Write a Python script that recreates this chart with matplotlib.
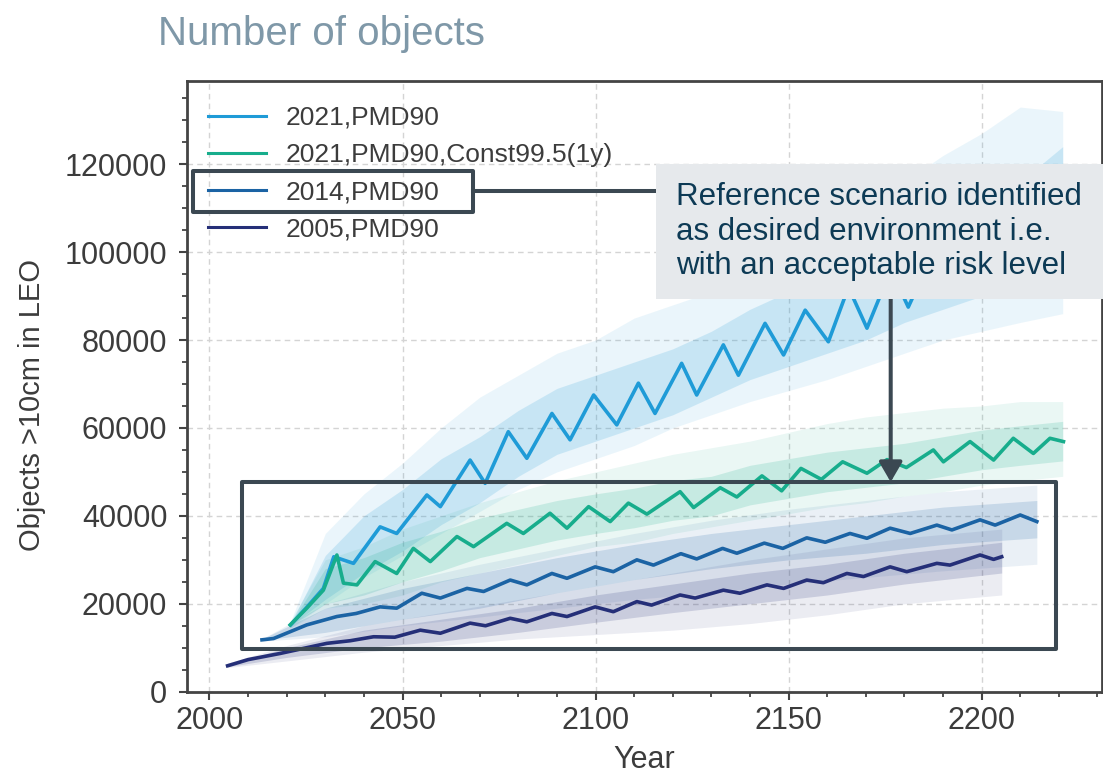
import matplotlib
matplotlib.use("Agg")
import matplotlib.pyplot as plt
from matplotlib.patches import Rectangle, FancyArrowPatch
from matplotlib.lines import Line2D
from matplotlib.ticker import MultipleLocator

plt.rcParams['font.family'] = ['Liberation Sans', 'DejaVu Sans']

# ---------------- data ----------------
labels = ["2021,PMD90", "2021,PMD90,Const99.5(1y)", "2014,PMD90", "2005,PMD90"]
colors = ["#1f9bd7", "#17ad8c", "#1b63a4", "#252f78"]

# mean lines
y21_years = [2021.0, 2025.0, 2029.5, 2032.2, 2037.3, 2044.2, 2048.5, 2056.3, 2059.8, 2067.5,
             2071.4, 2077.4, 2082.2, 2088.7, 2093.4, 2099.5, 2105.5, 2111.1, 2115.4, 2122.3,
             2126.2, 2133.1, 2137.0, 2143.9, 2148.7, 2154.3, 2160.3, 2165.5, 2170.3, 2176.5,
             2181.0, 2187.5, 2192.0, 2198.5, 2203.0, 2209.5, 2214.0, 2220.0, 2221.0]
y21_mean = [15200, 19000, 23500, 30700, 29200, 37500, 36000, 44750, 42100, 52700,
            47400, 59150, 53100, 63300, 57300, 67500, 60700, 70200, 63300, 74700,
            67500, 78900, 72000, 83800, 76600, 86800, 79600, 92000, 82700, 96000,
            87500, 100000, 91000, 104000, 95000, 109000, 99000, 114000, 113000]

c99_years = [2020.9, 2025.2, 2029.5, 2033.0, 2034.7, 2038.2, 2042.9, 2048.5, 2052.8, 2057.2,
             2064.1, 2068.4, 2077.0, 2081.3, 2088.2, 2092.6, 2098.2, 2103.8, 2108.5, 2113.3,
             2121.9, 2125.4, 2132.3, 2136.6, 2143.1, 2148.2, 2153.2, 2158.5, 2164.0, 2170.3,
             2175.5, 2180.5, 2187.5, 2190.1, 2197.0, 2203.1, 2208.2, 2213.4, 2217.7, 2221.2]
c99_mean = [15200, 19000, 23100, 31100, 24700, 24300, 29600, 26900, 32600, 29600,
            35300, 33000, 38300, 36000, 40600, 37200, 42100, 38700, 42900, 40400,
            45500, 41900, 46400, 44300, 49100, 45700, 50800, 48300, 52300, 49700,
            52800, 51000, 55000, 52300, 56900, 52700, 57650, 54200, 57650, 56900]

y14_years = [2013.6, 2016.6, 2025.2, 2033.0, 2038.0, 2044.2, 2048.5, 2055.0, 2059.8, 2066.7,
             2071.0, 2077.9, 2082.2, 2088.7, 2092.6, 2099.9, 2104.6, 2110.7, 2115.0, 2122.1,
             2126.2, 2132.9, 2136.6, 2143.7, 2148.5, 2154.7, 2159.5, 2165.9, 2170.3, 2176.3,
             2181.5, 2188.4, 2192.3, 2199.6, 2203.5, 2210.0, 2214.3]
y14_mean = [11800, 12100, 15200, 17100, 17800, 19300, 19000, 22400, 21300, 23500,
            22800, 25400, 24300, 26900, 25800, 28400, 27300, 30000, 28800, 31400,
            30200, 32600, 31500, 33800, 32600, 35000, 34000, 36000, 34900, 37200,
            36000, 37900, 36800, 39100, 37900, 40200, 38700]

y05_years = [2004.7, 2010.0, 2018.3, 2030.4, 2036.5, 2042.5, 2048.0, 2054.6, 2059.8, 2067.5,
             2071.5, 2077.9, 2082.2, 2088.7, 2092.6, 2099.9, 2104.6, 2110.7, 2114.5, 2121.9,
             2125.8, 2133.1, 2137.4, 2144.4, 2148.7, 2154.7, 2159.0, 2165.1, 2169.4, 2176.3,
             2180.6, 2188.4, 2191.8, 2199.6, 2203.1, 2205.2]
y05_mean = [5900, 7300, 8700, 11000, 11600, 12500, 12400, 14000, 13300, 15600,
            15000, 16700, 15900, 17800, 17100, 19300, 18200, 20500, 19700, 22000,
            21300, 23100, 22400, 24300, 23500, 25400, 24800, 26900, 26200, 28400,
            27300, 29200, 28800, 31100, 30100, 30700]

# spread of the individual Monte Carlo runs: outer (all runs) and inner (dense core)
y21_env_years = [2021, 2030, 2040, 2050, 2060, 2070, 2080, 2090, 2100, 2110, 2120,
                 2130, 2140, 2150, 2160, 2170, 2180, 2190, 2200, 2210, 2221]
y21_low = [14500, 20000, 26000, 31000, 36000, 41000, 46000, 50000, 53000, 56000, 60000,
           63000, 66000, 68500, 71000, 74000, 77000, 80000, 82000, 84000, 86000]
y21_high = [16000, 36000, 45000, 52000, 60000, 67000, 72000, 77000, 80000, 85000, 88000,
            91000, 95000, 100000, 105000, 110000, 116000, 122000, 127000, 133000, 132000]
y21_in_low = [15000, 21000, 27000, 32000, 38000, 43000, 49000, 54000, 57000, 60000, 63000,
              67000, 71000, 74000, 77000, 80000, 84000, 87000, 90000, 94000, 98000]
y21_in_high = [15500, 31000, 40000, 46000, 53000, 58000, 64000, 69000, 72000, 75000, 78000,
               82000, 87000, 91000, 94000, 97000, 101000, 106000, 111000, 116000, 124000]

c99_env_years = [2021, 2030, 2040, 2050, 2060, 2070, 2080, 2090, 2100, 2110, 2120,
                 2130, 2140, 2150, 2160, 2170, 2180, 2190, 2200, 2210, 2221]
c99_low = [14500, 19000, 20000, 22000, 25000, 27000, 29000, 31000, 33000, 34000, 36000,
           37500, 39000, 40500, 42000, 43000, 44500, 45500, 47000, 48000, 49000]
c99_high = [16000, 30000, 33000, 37000, 40000, 43000, 45500, 48000, 50000, 52000, 54000,
            55500, 57000, 59000, 61000, 62500, 63500, 64500, 65000, 66000, 66000]
c99_in_low = [15000, 20000, 22000, 25000, 27500, 30500, 32500, 34500, 36000, 37300, 39000,
              40000, 42500, 44000, 45500, 46500, 47500, 49000, 50500, 51500, 52500]
c99_in_high = [15500, 28000, 30500, 34000, 36500, 39500, 41500, 43500, 45000, 46300, 48000,
               49000, 51500, 53000, 54500, 55500, 56500, 58000, 59500, 60500, 61500]

y14_env_years = [2013.6, 2030, 2050, 2070, 2090, 2110, 2130, 2150, 2170, 2190, 2214.3]
y14_low = [11500, 12500, 15000, 17000, 19000, 21000, 22500, 24500, 26000, 27500, 29000]
y14_high = [12000, 20000, 25000, 29000, 32500, 36000, 39000, 41500, 43500, 45500, 47000]
y14_in_low = [11700, 13500, 16500, 19000, 22500, 25500, 28000, 30000, 31500, 33500, 35000]
y14_in_high = [12000, 19000, 23500, 27000, 30500, 33500, 36000, 38000, 40000, 42000, 43500]

y05_env_years = [2004.7, 2020, 2040, 2060, 2080, 2100, 2120, 2140, 2160, 2180, 2205.2]
y05_low = [5500, 7000, 9000, 10500, 12000, 13000, 14000, 15500, 17500, 20000, 22000]
y05_high = [6500, 10500, 15000, 18000, 21000, 24000, 27000, 30000, 32500, 35000, 37000]
y05_in_low = [5700, 7800, 10000, 11500, 13500, 15800, 18000, 20000, 22000, 24500, 27000]
y05_in_high = [6200, 10000, 14000, 16500, 19000, 22000, 24500, 27000, 29000, 31500, 34000]

x_ticks = [2000, 2050, 2100, 2150, 2200]
y_ticks = [0, 20000, 40000, 60000, 80000, 100000, 120000]

# ---------------- figure ----------------
W, H = 1103, 779
fig = plt.figure(figsize=(W / 100, H / 100), dpi=100)
ax = fig.add_axes([186.7 / W, 1 - 691.7 / H, (1101.7 - 186.7) / W, (691.7 - 80.7) / H])

dark = "#444444"
series = [
    (y21_years, y21_mean, y21_env_years, y21_low, y21_high, y21_in_low, y21_in_high),
    (c99_years, c99_mean, c99_env_years, c99_low, c99_high, c99_in_low, c99_in_high),
    (y14_years, y14_mean, y14_env_years, y14_low, y14_high, y14_in_low, y14_in_high),
    (y05_years, y05_mean, y05_env_years, y05_low, y05_high, y05_in_low, y05_in_high),
]
for i, (xs, ys, ex, lo, hi, ilo, ihi) in enumerate(series):
    ax.fill_between(ex, lo, hi, color=colors[i], alpha=0.09, lw=0, zorder=2 + i * 0.1)
    ax.fill_between(ex, ilo, ihi, color=colors[i], alpha=0.17, lw=0, zorder=2.05 + i * 0.1)
for i, (xs, ys, *_rest) in enumerate(series):
    ax.plot(xs, ys, color=colors[i], lw=2.6, label=labels[i], zorder=4 + i * 0.1,
            solid_joinstyle="round")

ax.set_xlim(1994.1, 2231.1)
ax.set_ylim(0, 139000)
ax.set_xticks(x_ticks)
ax.set_yticks(y_ticks)
ax.xaxis.set_minor_locator(MultipleLocator(10))
ax.yaxis.set_minor_locator(MultipleLocator(5000))
ax.grid(True, which="major", ls=(0, (4, 3)), color="#d4d4d4", lw=1.0, zorder=0)
ax.set_axisbelow(True)
for s in ax.spines.values():
    s.set_color(dark)
    s.set_linewidth(2.0)
ax.tick_params(which="major", direction="out", length=6, width=1.5, color=dark,
               labelsize=22, labelcolor="#3c3c3c")
ax.tick_params(which="minor", direction="out", length=3.5, width=1.3, color=dark)
ax.tick_params(axis="x", which="major", pad=4)
ax.tick_params(axis="y", which="major", pad=8)
ax.tick_params(top=False, right=False, which="both")

ax.set_xlabel("Year", fontsize=22, color="#3c3c3c")
ax.set_ylabel("Objects >10cm in LEO", fontsize=21, color="#3c3c3c")
ax.xaxis.set_label_coords(0.5, -0.088)
ax.yaxis.set_label_coords(-0.154, 0.470)

leg = ax.legend(loc="upper left", bbox_to_anchor=((208 - 186.7) / 915, (691.7 - 106) / 611),
                frameon=False, fontsize=19, handlelength=2.2, handletextpad=0.75,
                labelspacing=0.5, borderpad=0, borderaxespad=0)
for t in leg.get_texts():
    t.set_color("#3c3c3c")
for h in leg.get_lines():
    h.set_linewidth(2.2)

# title
fig.text(158 / W, 1 - 45 / H, "Number of objects", fontsize=29, color="#7f98a8",
         ha="left", va="baseline")

# ---------------- annotation overlay ----------------
box_c = "#3b4852"
lw_box = 2.9
fig.add_artist(Rectangle((192.7 / W, 1 - 212 / H), (472.7 - 192.7) / W, (212 - 171) / H,
                         transform=fig.transFigure, fill=False, ec=box_c, lw=lw_box,
                         joinstyle="round", zorder=10))
fig.add_artist(Line2D([472.7 / W, 656 / W], [1 - 190.7 / H, 1 - 190.7 / H],
                      transform=fig.transFigure, color=box_c, lw=lw_box, zorder=10))
fig.add_artist(Rectangle((656 / W, 1 - 299 / H), (W - 656) / W, (299 - 164) / H,
                         transform=fig.transFigure, fc="#e6e9ec", ec="none", zorder=11))
fig.text(676 / W, 1 - 231.7 / H,
         "Reference scenario identified\nas desired environment i.e.\nwith an acceptable risk level",
         fontsize=22.5, color="#0d3a55", ha="left", va="center", linespacing=1.2, zorder=12)
fig.add_artist(FancyArrowPatch((890.7 / W, 1 - 299 / H), (890.7 / W, 1 - 482 / H),
                               transform=fig.transFigure,
                               arrowstyle="-|>,head_length=0.6,head_width=0.35",
                               mutation_scale=20, color=box_c, lw=lw_box, shrinkA=0, shrinkB=0,
                               zorder=10))
fig.add_artist(Rectangle((241.7 / W, 1 - 649.3 / H), (1055.7 - 241.7) / W, (649.3 - 482) / H,
                         transform=fig.transFigure, fill=False, ec=box_c, lw=lw_box,
                         joinstyle="round", zorder=10))

fig.savefig("out.png", dpi=100)
